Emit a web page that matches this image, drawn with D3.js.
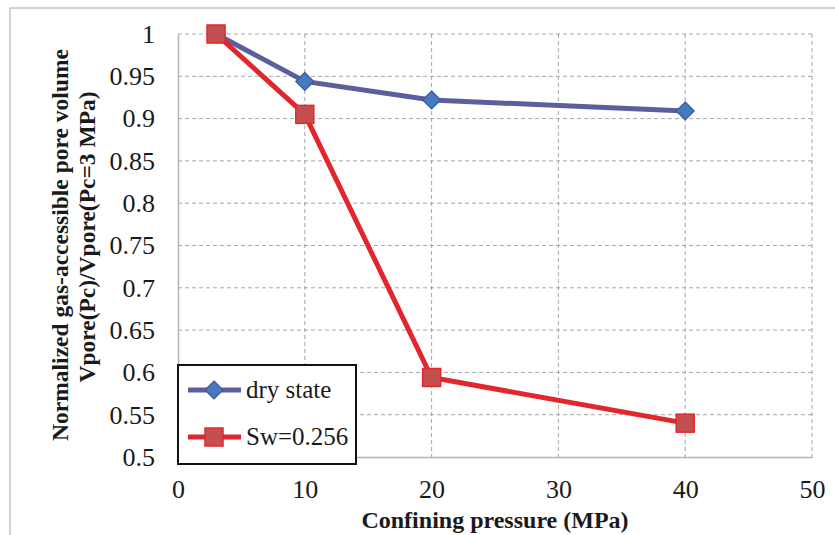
<!DOCTYPE html>
<html>
<head>
<meta charset="utf-8">
<script src="https://cdn.jsdelivr.net/npm/d3@7"></script>
<style>
  body { margin: 0; background: #fff; }
</style>
</head>
<body>
<div id="chart"></div>
<script>
// data
const pressure = [3, 10, 20, 40];
const dryState = [1, 0.944, 0.922, 0.909];
const swState = [1, 0.905, 0.594, 0.540];
const xTicks = [0, 10, 20, 30, 40, 50];
const yTicks = [0.5, 0.55, 0.6, 0.65, 0.7, 0.75, 0.8, 0.85, 0.9, 0.95, 1];
const seriesNames = ["dry state", "Sw=0.256"];

const width = 835, height = 535;
const plotLeft = 178, plotRight = 812, plotTop = 34, plotBottom = 457;
const serif = "'Liberation Serif'";

let svg = d3.select("#chart")
    .append("svg")
    .attr("width", width)
    .attr("height", height);

// outer chart border
svg.append("rect")
    .attr("x", 10).attr("y", 8)
    .attr("width", 900).attr("height", 600)
    .attr("fill", "none")
    .attr("stroke", "#c4c4c4")
    .attr("stroke-width", 1.5);

let x = d3.scaleLinear().domain([0, 50]).range([plotLeft, plotRight]);
let y = d3.scaleLinear().domain([0.5, 1]).range([plotBottom, plotTop]);

// gridlines
svg.append("g")
    .selectAll("line")
    .data(yTicks.filter(d => d > 0.5))
    .enter().append("line")
    .attr("x1", plotLeft).attr("x2", plotRight)
    .attr("y1", d => y(d)).attr("y2", d => y(d))
    .attr("stroke", "#a6a6a6")
    .attr("stroke-dasharray", "4,3");
svg.append("g")
    .selectAll("line")
    .data(xTicks.filter(d => d > 0))
    .enter().append("line")
    .attr("x1", d => x(d)).attr("x2", d => x(d))
    .attr("y1", plotTop).attr("y2", plotBottom)
    .attr("stroke", "#a6a6a6")
    .attr("stroke-dasharray", "4,3");

// axes
let xAxis = svg.append("g")
    .attr("transform", `translate(0, ${plotBottom})`)
    .call(d3.axisBottom(x).tickValues(xTicks).tickSize(0).tickPadding(23).tickFormat(d3.format("d")));
let yAxis = svg.append("g")
    .attr("transform", `translate(${plotLeft}, 0)`)
    .call(d3.axisLeft(y).tickValues(yTicks).tickSize(0).tickPadding(23).tickFormat(d => String(d)));
[xAxis, yAxis].forEach(a => {
    a.select(".domain").attr("stroke", "#b4b4b4").attr("stroke-width", 1.5);
    a.selectAll("text")
        .style("font-size", "26px")
        .style("font-family", serif)
        .attr("fill", "#1a1a1a");
});

// lines
let line = d3.line().x((d, i) => x(pressure[i])).y(d => y(d));
svg.append("path")
    .datum(dryState)
    .attr("fill", "none")
    .attr("stroke", "#5c5e9e")
    .attr("stroke-width", 5)
    .attr("d", line);
svg.append("path")
    .datum(swState)
    .attr("fill", "none")
    .attr("stroke", "#e2262e")
    .attr("stroke-width", 5)
    .attr("d", line);

function diamond(g, cx, cy) {
    g.append("path")
        .attr("d", `M${cx},${cy - 9}L${cx + 9},${cy}L${cx},${cy + 9}L${cx - 9},${cy}Z`)
        .attr("fill", "#4679bd")
        .attr("stroke", "#3c5a99")
        .attr("stroke-width", 1.2);
}
function square(g, cx, cy) {
    g.append("rect")
        .attr("x", cx - 9).attr("y", cy - 9)
        .attr("width", 18).attr("height", 18)
        .attr("fill", "#c3504e")
        .attr("stroke", "#e2262e")
        .attr("stroke-width", 1.5);
}

let markers = svg.append("g");
dryState.forEach((d, i) => diamond(markers, x(pressure[i]), y(d)));
swState.forEach((d, i) => square(markers, x(pressure[i]), y(d)));

// legend
let legend = svg.append("g");
legend.append("rect")
    .attr("x", 178).attr("y", 365)
    .attr("width", 178).attr("height", 99)
    .attr("fill", "#fff")
    .attr("stroke", "#111")
    .attr("stroke-width", 2);
let legendColors = ["#5c5e9e", "#e2262e"];
seriesNames.forEach((name, i) => {
    let ly = 390 + i * 47;
    legend.append("line")
        .attr("x1", 188).attr("x2", 241)
        .attr("y1", ly).attr("y2", ly)
        .attr("stroke", legendColors[i])
        .attr("stroke-width", 5);
    if (i == 0) diamond(legend, 214, ly); else square(legend, 214, ly);
    legend.append("text")
        .attr("x", 246).attr("y", ly + 8)
        .attr("fill", "#1a1a1a")
        .style("font-family", serif)
        .style("font-size", "25px")
        .text(name);
});

// axis titles
svg.append("text")
    .attr("x", 495).attr("y", 528)
    .attr("text-anchor", "middle")
    .attr("fill", "#1a1a1a")
    .style("font-family", serif)
    .style("font-size", "24px")
    .style("font-weight", "bold")
    .text("Confining pressure (MPa)");

svg.append("text")
    .attr("transform", "translate(68, 245) rotate(-90)")
    .attr("text-anchor", "middle")
    .attr("fill", "#1a1a1a")
    .style("font-family", serif)
    .style("font-size", "23.5px")
    .style("font-weight", "bold")
    .text("Normalized  gas-accessible  pore volume");
svg.append("text")
    .attr("transform", "translate(95, 237) rotate(-90)")
    .attr("text-anchor", "middle")
    .attr("fill", "#1a1a1a")
    .style("font-family", serif)
    .style("font-size", "23.5px")
    .style("font-weight", "bold")
    .text("Vpore(Pc)/Vpore(Pc=3 MPa)");
</script>
</body>
</html>
